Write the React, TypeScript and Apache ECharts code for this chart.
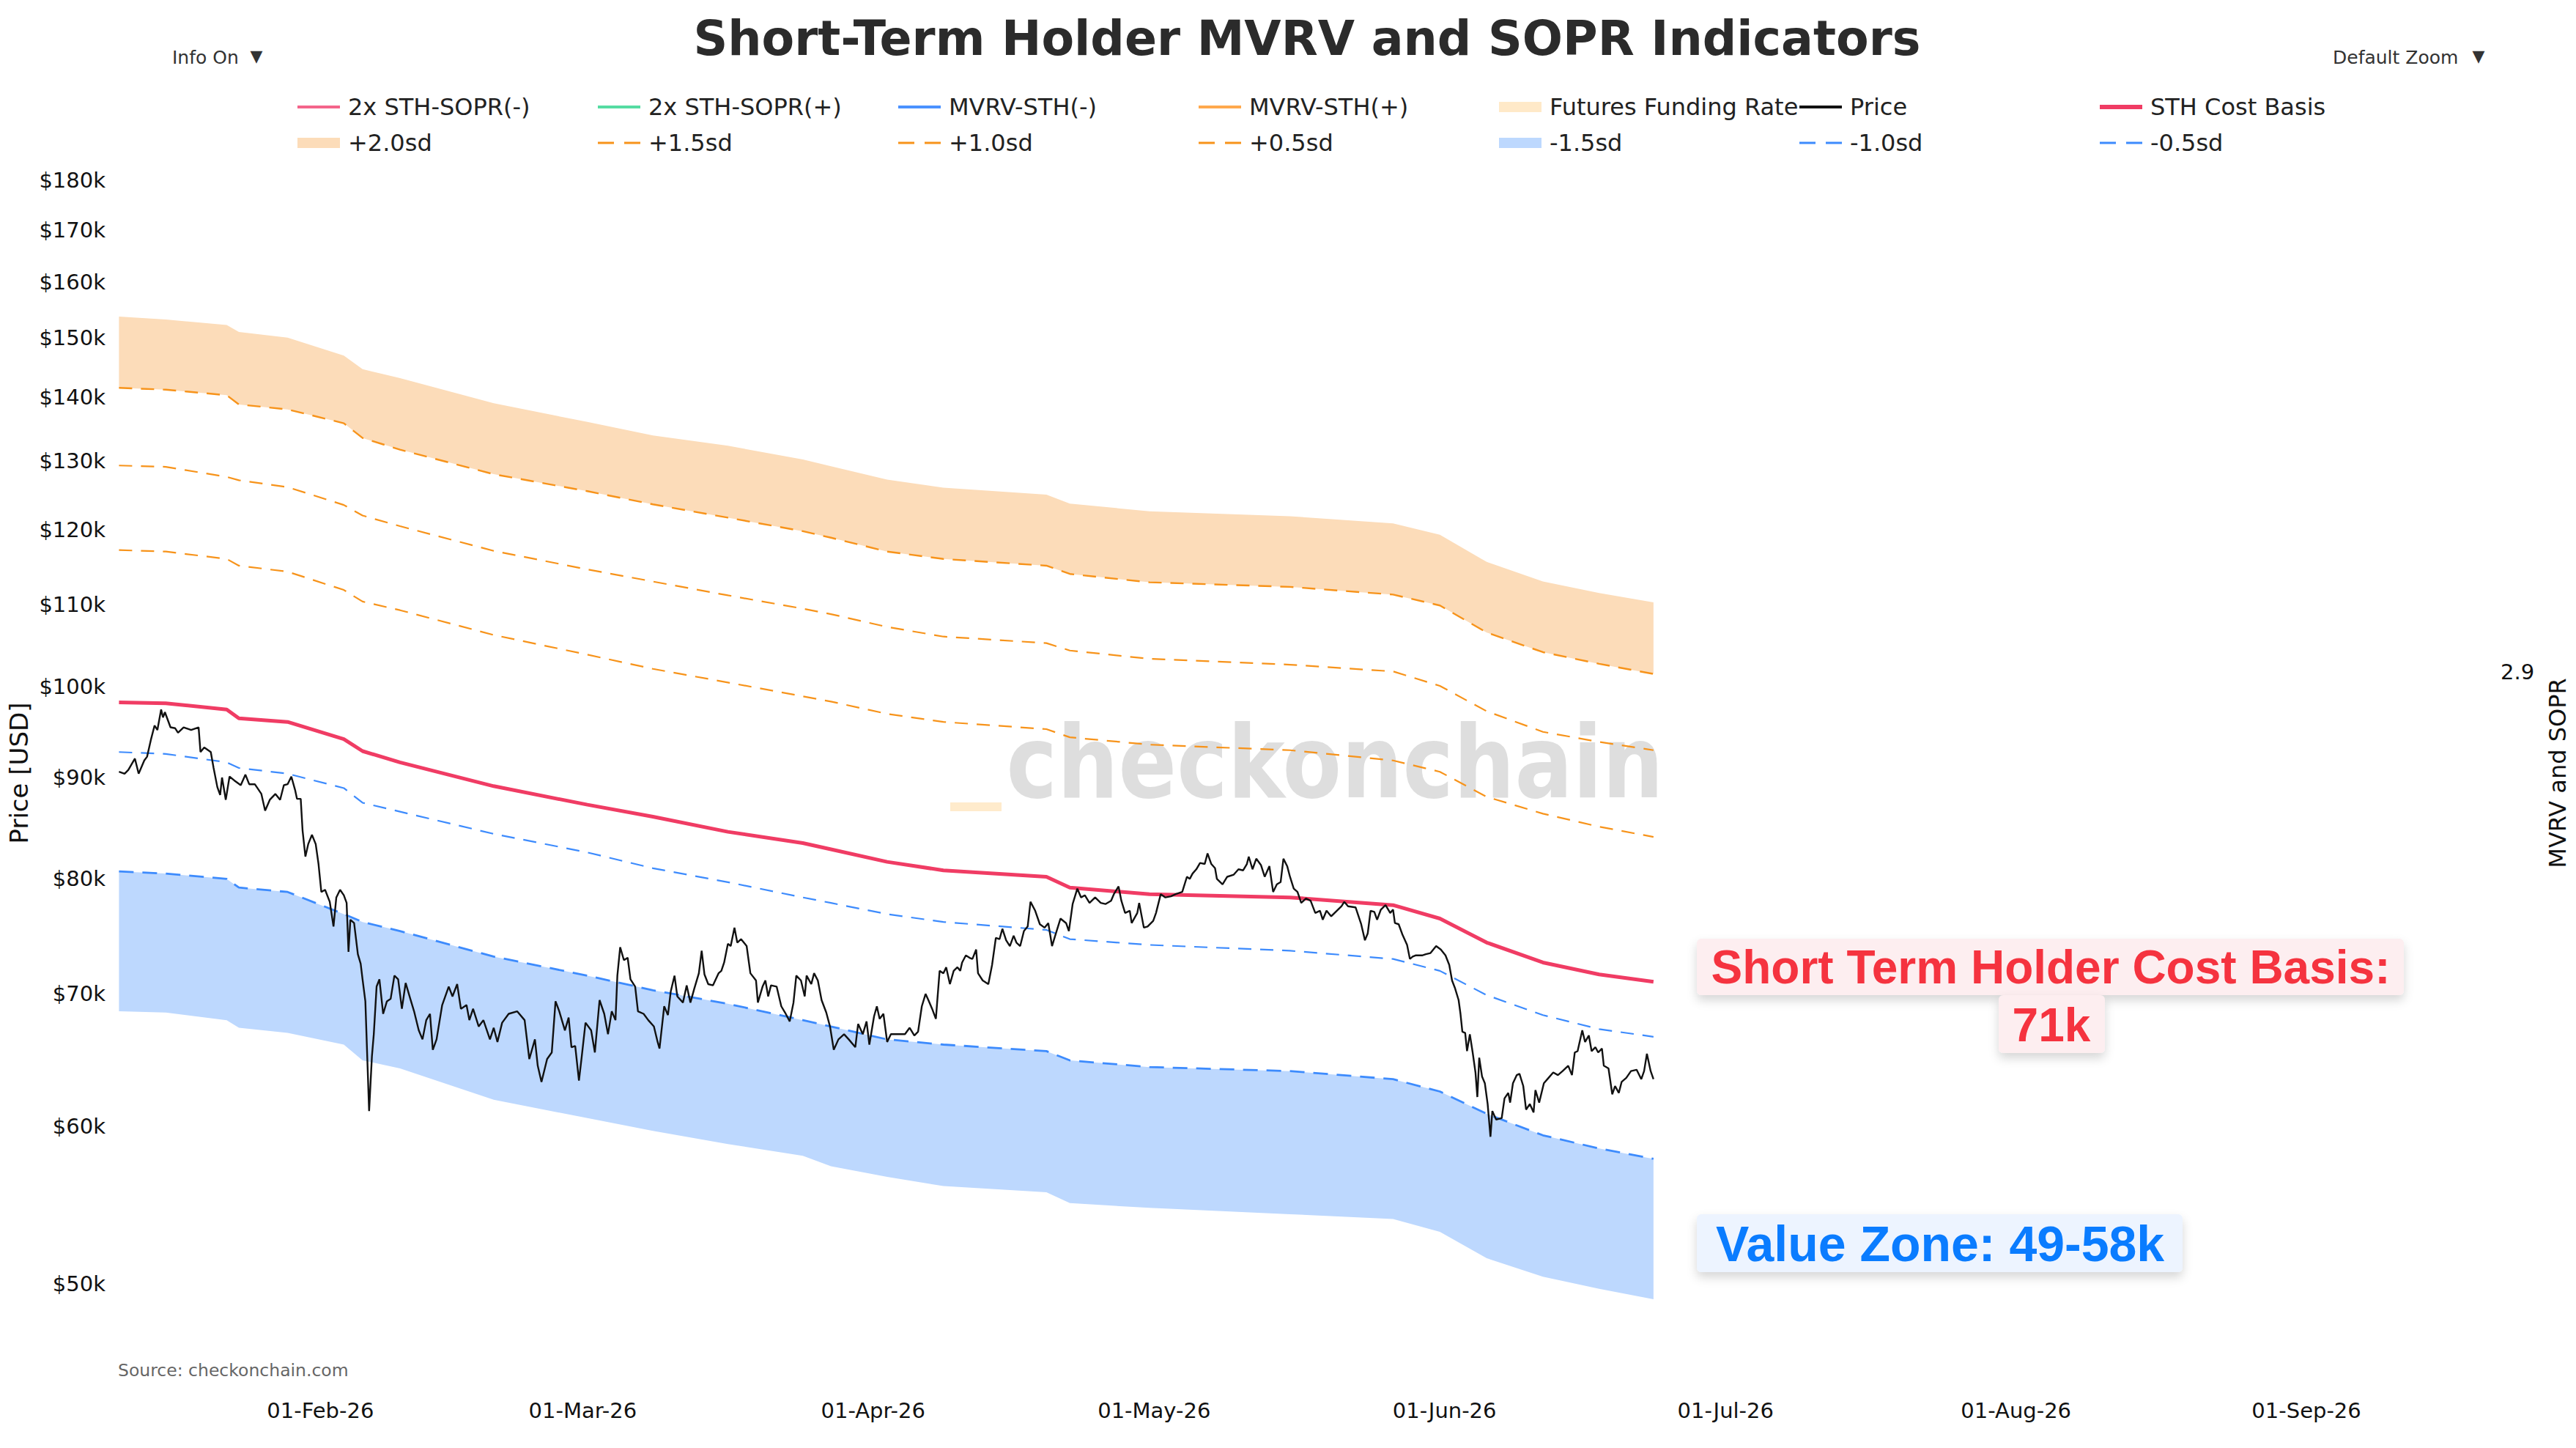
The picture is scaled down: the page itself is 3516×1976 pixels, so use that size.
import { useEffect, useRef } from "react";
import * as echarts from "echarts";

const DAY = 86400000;
const START = Date.UTC(2026, 0, 10, 12);
const X_MIN = Date.UTC(2026, 0, 10);
const X_MAX = Date.UTC(2026, 8, 20);

const X_TICKS = ["2026-02-01", "2026-03-01", "2026-04-01", "2026-05-01", "2026-06-01", "2026-07-01", "2026-08-01", "2026-09-01"];
const X_LABELS = ["01-Feb-26", "01-Mar-26", "01-Apr-26", "01-May-26", "01-Jun-26", "01-Jul-26", "01-Aug-26", "01-Sep-26"];
const Y_TICKS = [50, 60, 70, 80, 90, 100, 110, 120, 130, 140, 150, 160, 170, 180];
const RIGHT_TICKS = [2.9];

// band values in $k, sampled at day offsets from START
const BAND_DAYS = [0, 5, 11.5, 12.8, 18, 24, 26, 30, 40, 50, 57, 65, 73, 76, 82, 88, 99, 101.5, 110, 125, 136, 141, 146, 152, 158, 163.8];
const PLUS_2_0 = [153.7, 153.2, 152.2, 151.0, 150.0, 146.9, 144.6, 143.1, 139.0, 136.0, 133.9, 132.3, 130.2, 129.2, 127.2, 126.0, 125.0, 123.7, 122.6, 121.9, 120.9, 119.3, 115.6, 113.0, 111.5, 110.3];
const PLUS_1_5 = [141.5, 141.2, 140.3, 138.8, 138.0, 135.8, 133.5, 131.7, 128.0, 125.5, 123.6, 121.7, 119.8, 118.9, 117.0, 116.0, 115.1, 114.0, 112.9, 112.3, 111.3, 109.9, 106.5, 104.1, 102.7, 101.5];
const PLUS_1_0 = [129.3, 129.1, 127.6, 127.1, 126.1, 123.5, 122.0, 120.5, 117.1, 114.6, 113.0, 111.2, 109.5, 108.8, 107.2, 106.0, 105.2, 104.3, 103.3, 102.6, 101.8, 100.1, 97.2, 94.9, 93.8, 92.9];
const PLUS_0_5 = [117.2, 117.0, 116.0, 115.1, 114.3, 111.9, 110.4, 109.3, 106.2, 103.8, 102.1, 100.5, 98.9, 98.3, 96.9, 96.0, 95.2, 94.3, 93.5, 92.9, 91.8, 90.6, 88.0, 86.3, 85.0, 84.0];
const COST_BASIS = [98.2, 98.1, 97.4, 96.4, 96.0, 94.1, 92.8, 91.6, 89.1, 87.2, 86.0, 84.5, 83.4, 82.8, 81.6, 80.8, 80.2, 79.2, 78.6, 78.3, 77.6, 76.4, 74.3, 72.6, 71.6, 71.0];
const MINUS_0_5 = [92.7, 92.5, 91.6, 91.0, 90.4, 88.9, 87.4, 86.5, 84.3, 82.5, 81.0, 79.7, 78.3, 77.8, 76.8, 76.1, 75.4, 74.6, 74.1, 73.6, 72.9, 71.9, 69.9, 68.3, 67.2, 66.6];
const MINUS_1_0 = [80.7, 80.5, 80.0, 79.2, 78.8, 76.8, 76.1, 75.3, 73.1, 71.5, 70.3, 69.2, 67.9, 67.4, 66.4, 66.0, 65.5, 64.8, 64.3, 64.0, 63.4, 62.5, 60.9, 59.4, 58.5, 57.8];
const MINUS_1_5 = [68.6, 68.5, 67.9, 67.3, 66.9, 66.0, 64.8, 64.2, 61.9, 60.6, 59.7, 58.8, 58.0, 57.3, 56.6, 56.0, 55.6, 54.9, 54.6, 54.2, 53.9, 53.1, 51.5, 50.4, 49.7, 49.1];

// [day offset, price $k]
const PRICE: [number, number][] = [
  [0, 90.6], [0.6, 90.4], [1.0, 90.8], [1.7, 92.0], [2.1, 90.4], [2.7, 91.8], [3.0, 92.2], [3.4, 94.0], [3.8, 95.6], [4.1, 95.1],
  [4.5, 97.4], [4.7, 96.5], [4.9, 97.1], [5.5, 95.4], [6.0, 95.3], [6.3, 94.8], [6.9, 95.4], [7.7, 95.1], [8.5, 95.4], [8.7, 92.7],
  [9.1, 93.2], [9.8, 92.7], [10.1, 91.0], [10.5, 89.0], [10.8, 88.2], [11.0, 90.0], [11.4, 87.7], [11.8, 90.1], [12.3, 89.7], [13.0, 89.2],
  [13.5, 90.3], [13.9, 89.3], [14.5, 89.3], [15.2, 88.3], [15.6, 86.6], [16.1, 87.7], [16.7, 88.3], [17.2, 87.7], [17.6, 89.2], [18.0, 89.3],
  [18.4, 90.1], [18.8, 88.7], [19.0, 87.8], [19.4, 87.8], [19.6, 84.6], [19.9, 82.1], [20.2, 83.3], [20.6, 84.2], [21.0, 83.3], [21.3, 81.4],
  [21.6, 78.8], [22.0, 79.0], [22.5, 77.9], [22.9, 75.7], [23.2, 78.3], [23.6, 79.0], [24.0, 78.5], [24.3, 77.8], [24.5, 73.5], [24.7, 76.3],
  [25.1, 76.0], [25.5, 73.3], [25.8, 72.5], [26.0, 71.2], [26.3, 69.4], [26.7, 61.1], [27.0, 65.1], [27.2, 66.8], [27.5, 70.6], [27.8, 71.2],
  [28.2, 68.4], [28.6, 69.4], [29.0, 69.6], [29.4, 71.5], [29.8, 71.2], [30.2, 68.8], [30.6, 70.9], [31.1, 69.6], [31.5, 68.6], [32.0, 67.1],
  [32.4, 66.4], [32.8, 67.9], [33.2, 68.4], [33.5, 65.6], [33.9, 66.4], [34.5, 69.1], [35.2, 70.6], [35.6, 69.8], [36.1, 70.8], [36.5, 68.8],
  [37.1, 69.1], [37.4, 67.9], [37.8, 68.8], [38.4, 67.4], [38.9, 67.9], [39.6, 66.4], [40.0, 67.3], [40.4, 66.2], [40.9, 67.7], [41.6, 68.4],
  [42.5, 68.6], [43.3, 67.9], [43.8, 64.9], [44.4, 66.4], [44.7, 64.4], [45.1, 63.2], [45.7, 64.9], [46.2, 65.4], [46.6, 69.4], [47.0, 68.6],
  [47.6, 67.1], [48.0, 68.1], [48.3, 65.8], [48.7, 65.9], [49.1, 63.3], [49.4, 65.1], [49.8, 67.7], [50.4, 67.1], [50.8, 65.4], [51.3, 69.5],
  [51.8, 68.4], [52.2, 66.8], [52.6, 68.6], [53.0, 67.9], [53.2, 71.5], [53.5, 73.9], [53.9, 72.8], [54.3, 73.0], [54.6, 71.2], [55.1, 70.6],
  [55.4, 68.6], [56.0, 68.4], [56.5, 67.9], [57.1, 67.4], [57.5, 66.2], [57.7, 65.7], [58.2, 69.0], [58.6, 68.3], [58.9, 70.2], [59.3, 71.5],
  [59.6, 69.8], [60.2, 69.3], [60.6, 70.7], [61.0, 69.3], [61.4, 70.4], [61.9, 71.7], [62.2, 73.6], [62.5, 71.6], [62.9, 70.8], [63.4, 70.7],
  [64.0, 71.7], [64.3, 71.9], [64.6, 72.6], [65.0, 74.2], [65.3, 74.0], [65.7, 75.6], [66.0, 74.3], [66.4, 74.6], [66.8, 74.2], [67.0, 74.0],
  [67.4, 71.7], [68.0, 71.1], [68.2, 69.3], [68.7, 70.6], [69.0, 71.1], [69.3, 69.8], [69.6, 70.7], [70.2, 70.6], [70.7, 69.0], [71.1, 68.5],
  [71.6, 67.8], [72.0, 69.3], [72.3, 71.5], [72.8, 71.1], [73.2, 69.8], [73.4, 71.5], [73.9, 70.8], [74.2, 71.7], [74.6, 71.1], [75.0, 69.5],
  [75.5, 68.5], [75.9, 67.4], [76.3, 65.6], [76.8, 66.4], [77.4, 66.8], [77.9, 66.4], [78.6, 65.8], [78.9, 67.6], [79.4, 66.8], [79.8, 67.8],
  [80.1, 66.0], [80.6, 68.2], [80.9, 69.0], [81.2, 68.0], [81.6, 68.4], [82.0, 66.2], [82.4, 66.8], [83.1, 66.8], [83.9, 66.8], [84.4, 67.3],
  [84.9, 66.7], [85.3, 67.0], [85.7, 69.0], [86.1, 70.0], [86.4, 69.5], [86.8, 68.8], [87.2, 68.0], [87.6, 71.9], [88.0, 71.7], [88.3, 72.2],
  [88.7, 70.8], [89.1, 71.9], [89.5, 72.2], [89.8, 71.9], [90.0, 72.6], [90.4, 73.2], [90.8, 73.0], [91.1, 72.9], [91.5, 73.7], [91.7, 71.7],
  [92.2, 71.1], [92.8, 70.8], [93.2, 72.4], [93.6, 74.7], [94.0, 74.6], [94.3, 75.5], [94.7, 74.5], [95.1, 74.0], [95.5, 74.9], [95.8, 74.3],
  [96.2, 74.0], [96.6, 75.3], [97.0, 75.7], [97.3, 77.9], [97.8, 77.1], [98.3, 75.9], [98.8, 75.6], [99.2, 76.0], [99.6, 74.0], [99.9, 74.8],
  [100.5, 76.4], [101.1, 76.0], [101.4, 75.3], [101.8, 77.7], [102.3, 79.1], [102.7, 78.3], [103.1, 78.5], [103.6, 77.8], [104.2, 78.3], [104.8, 77.8],
  [105.3, 77.7], [105.9, 78.0], [106.2, 78.6], [106.7, 79.3], [107.0, 78.0], [107.4, 76.9], [107.9, 77.1], [108.1, 76.0], [108.7, 76.9], [108.9, 77.8],
  [109.4, 75.6], [109.8, 75.7], [110.4, 76.2], [110.7, 76.9], [111.2, 78.6], [111.7, 78.3], [112.3, 78.4], [112.8, 78.6], [113.5, 78.8], [114.0, 80.2],
  [114.3, 80.0], [114.6, 80.5], [115.0, 80.9], [115.4, 81.5], [115.9, 81.4], [116.2, 82.4], [116.6, 81.4], [117.0, 81.0], [117.2, 80.0], [117.8, 79.5],
  [118.3, 80.2], [119.0, 80.4], [119.5, 80.9], [120.0, 80.8], [120.4, 81.4], [120.6, 82.1], [121.0, 80.9], [121.4, 81.9], [121.9, 81.3], [122.3, 80.2],
  [122.8, 81.2], [123.2, 78.8], [123.6, 79.5], [124.0, 79.7], [124.3, 81.9], [124.7, 81.2], [125.0, 80.2], [125.4, 79.1], [125.8, 78.8], [126.2, 77.8],
  [126.7, 78.2], [127.2, 78.0], [127.7, 76.9], [128.2, 77.1], [128.5, 76.3], [128.9, 77.1], [129.4, 76.6], [130.0, 77.1], [130.5, 77.5], [130.8, 77.9],
  [131.2, 77.5], [132.0, 77.4], [132.6, 75.9], [133.0, 74.5], [133.3, 75.1], [133.6, 77.1], [134.0, 77.0], [134.3, 76.3], [134.7, 77.2], [135.2, 77.6],
  [135.7, 76.9], [136.0, 77.2], [136.2, 76.0], [136.6, 75.9], [137.0, 75.0], [137.5, 74.1], [137.8, 72.9], [138.1, 73.1], [138.4, 73.2], [139.1, 73.2],
  [139.5, 73.3], [140.0, 73.4], [140.6, 74.0], [141.1, 73.7], [141.6, 73.2], [142.0, 72.4], [142.3, 71.1], [142.6, 70.5], [143.0, 69.5], [143.2, 68.4],
  [143.4, 67.0], [143.7, 66.9], [143.9, 65.5], [144.2, 66.8], [144.5, 65.4], [144.8, 63.9], [145.0, 62.1], [145.2, 65.0], [145.5, 63.6], [145.8, 63.1],
  [146.1, 61.6], [146.4, 59.3], [146.6, 61.1], [147.0, 60.5], [147.6, 60.6], [147.9, 62.0], [148.3, 62.4], [148.5, 61.7], [148.8, 63.1], [149.2, 63.7],
  [149.5, 63.8], [149.9, 62.9], [150.2, 61.2], [150.6, 61.6], [151.0, 61.0], [151.2, 62.6], [151.6, 61.7], [152.1, 63.1], [152.6, 63.5], [153.1, 63.9],
  [153.6, 63.7], [154.1, 64.0], [154.7, 64.4], [155.1, 63.7], [155.4, 65.4], [155.7, 65.5], [156.2, 67.1], [156.5, 66.2], [156.9, 66.7], [157.2, 65.5],
  [157.6, 65.8], [157.9, 65.4], [158.3, 65.7], [158.5, 64.4], [159.0, 64.2], [159.4, 62.3], [159.7, 62.9], [160.1, 62.4], [160.4, 63.2], [160.9, 63.5],
  [161.4, 64.0], [162.0, 64.1], [162.5, 63.4], [162.8, 64.0], [163.1, 65.3], [163.5, 64.0], [163.8, 63.4],
];

const LEGEND_ROW_1 = ["2x STH-SOPR(-)", "2x STH-SOPR(+)", "MVRV-STH(-)", "MVRV-STH(+)", "Futures Funding Rate", "Price", "STH Cost Basis"];
const LEGEND_ROW_2 = ["+2.0sd", "+1.5sd", "+1.0sd", "+0.5sd", "-1.5sd", "-1.0sd", "-0.5sd"];

const ORANGE = "#f7931a";
const ORANGE_FILL = "#fcdcb9";
const BLUE = "#3d8bfd";
const BLUE_FILL = "#bdd8fe";
const RED = "#f03c64";
const FONT = "DejaVu Sans";

const ICON_LINE = "path://M0,0h1v0h-1z M0,5h58v4h-58z M0,14h1v0h-1z";
const ICON_THICK = "path://M0,0h1v0h-1z M0,4h58v6h-58z M0,14h1v0h-1z";
const ICON_DASH = "path://M0,0h1v0h-1z M0,5.5h22v3h-22z M36,5.5h22v3h-22z M0,14h1v0h-1z";
const LEGEND_ICONS: Record<string, string> = {
  "2x STH-SOPR(-)": ICON_LINE, "2x STH-SOPR(+)": ICON_LINE, "MVRV-STH(-)": ICON_LINE, "MVRV-STH(+)": ICON_LINE,
  "Futures Funding Rate": "rect", "Price": ICON_LINE, "STH Cost Basis": ICON_THICK,
  "+2.0sd": "rect", "+1.5sd": ICON_DASH, "+1.0sd": ICON_DASH, "+0.5sd": ICON_DASH,
  "-1.5sd": "rect", "-1.0sd": ICON_DASH, "-0.5sd": ICON_DASH,
};

const band = (vals: number[]) => BAND_DAYS.map((d, i) => [START + d * DAY, vals[i]]);

function dashedLine(name: string, vals: number[], color: string, width: number, dash: number[]) {
  return { name, type: "line", data: band(vals), symbol: "none", z: 3, color, lineStyle: { color, width, type: dash } };
}

// filled area between two bands, drawn as one polygon through the axes' scales
function bandFill(name: string, hi: number[], lo: number[], color: string) {
  const upper = band(hi);
  const lower = band(lo).reverse();
  return {
    name, type: "custom", z: 1, color, itemStyle: { color },
    data: BAND_DAYS.map((d, i) => [START + d * DAY, lo[i], hi[i]]),
    encode: { x: 0, y: [1, 2] },
    renderItem: (params: { dataIndex: number }, api: { coord: (p: number[]) => number[] }) => {
      if (params.dataIndex !== 0) return null;
      const points = [...upper.map(p => api.coord(p)), ...lower.map(p => api.coord(p))];
      return { type: "polygon", shape: { points }, style: { fill: color } };
    },
  };
}

function legendItem(name: string, col: number, top: number) {
  return {
    left: 406 + 410 * col, top, padding: 0, itemWidth: 58, itemHeight: 14, selectedMode: false,
    itemStyle: { borderWidth: 0 },
    textStyle: { fontFamily: FONT, fontSize: 32, color: "#222", padding: [0, 0, 0, 6] },
    data: [{ name, icon: LEGEND_ICONS[name] }],
  };
}

function text(x: number, y: number, str: string, size: number, fill: string, extra: Record<string, unknown> = {}) {
  return {
    type: "text", x, y, z: 20,
    style: { text: str, fill, fontSize: size, fontFamily: FONT, align: "left", verticalAlign: "middle", textAlign: "left", textVerticalAlign: "middle", ...extra },
  };
}

function box(x: number, y: number, w: number, h: number, fill: string) {
  return {
    type: "rect", z: 15, shape: { x, y, width: w, height: h, r: 6 },
    style: { fill, shadowBlur: 14, shadowOffsetY: 7, shadowColor: "rgba(0,0,0,0.16)" },
  };
}

export default function App() {
  const ref = useRef<HTMLDivElement>(null);

  useEffect(() => {
    if (!ref.current) return;
    const chart = echarts.init(ref.current, null, { renderer: "svg" });
    const xTickValues = X_TICKS.map(s => Date.parse(s));

    chart.setOption({
      animation: false,
      backgroundColor: "#fff",
      textStyle: { fontFamily: FONT },
      grid: { left: 156, right: 125, top: 220, bottom: 86, containLabel: false, outerBoundsMode: "none" },
      legend: [
        ...LEGEND_ROW_1.map((n, i) => legendItem(n, i, 130)),
        ...LEGEND_ROW_2.map((n, i) => legendItem(n, i, 179)),
      ],
      xAxis: {
        type: "value", min: X_MIN, max: X_MAX,
        axisLine: { show: false }, axisTick: { show: false }, splitLine: { show: false },
        axisLabel: {
          customValues: xTickValues, margin: 20, fontSize: 29, color: "#111", fontFamily: FONT,
          formatter: (v: number) => X_LABELS[xTickValues.indexOf(v)] ?? "",
        },
      },
      yAxis: [
        {
          type: "log", logBase: 10, min: 44.45, max: 184.1,
          name: "Price [USD]", nameLocation: "middle", nameGap: 112,
          nameTextStyle: { fontSize: 34, color: "#111", fontFamily: FONT },
          axisLine: { show: false }, axisTick: { show: false }, splitLine: { show: false },
          axisLabel: {
            customValues: Y_TICKS, margin: 12, fontSize: 29, color: "#111", fontFamily: FONT,
            formatter: (v: number) => `$${Math.round(v)}k`,
          },
        },
        {
          type: "value", position: "right", min: 0, max: 4.978,
          name: "MVRV and SOPR", nameLocation: "middle", nameGap: 84,
          nameTextStyle: { fontSize: 32, color: "#111", fontFamily: FONT },
          axisLine: { show: false }, axisTick: { show: false }, splitLine: { show: false },
          axisLabel: { customValues: RIGHT_TICKS, margin: 22, fontSize: 29, color: "#111", fontFamily: FONT, formatter: (v: number) => v.toFixed(1) },
        },
      ],
      series: [
        bandFill("+2.0sd", PLUS_2_0, PLUS_1_5, ORANGE_FILL),
        bandFill("-1.5sd", MINUS_1_0, MINUS_1_5, BLUE_FILL),
        dashedLine("+1.5sd", PLUS_1_5, ORANGE, 2.4, [18, 12]),
        dashedLine("+1.0sd", PLUS_1_0, ORANGE, 2.2, [18, 12]),
        dashedLine("+0.5sd", PLUS_0_5, ORANGE, 2.2, [18, 12]),
        dashedLine("-1.0sd", MINUS_1_0, BLUE, 2.8, [20, 12]),
        dashedLine("-0.5sd", MINUS_0_5, BLUE, 2.2, [18, 12]),
        { name: "STH Cost Basis", type: "line", data: band(COST_BASIS), symbol: "none", z: 4, color: RED, lineStyle: { color: RED, width: 5 } },
        {
          name: "Price", type: "line", data: PRICE.map(([d, v]) => [START + d * DAY, v]), symbol: "none", z: 5,
          color: "#111", lineStyle: { color: "#111", width: 2.4 },
        },
        { name: "2x STH-SOPR(-)", type: "line", yAxisIndex: 1, data: [], symbol: "none", color: "#f4648a" },
        { name: "2x STH-SOPR(+)", type: "line", yAxisIndex: 1, data: [], symbol: "none", color: "#55dca2" },
        { name: "MVRV-STH(-)", type: "line", yAxisIndex: 1, data: [], symbol: "none", color: "#4b92ff" },
        { name: "MVRV-STH(+)", type: "line", yAxisIndex: 1, data: [], symbol: "none", color: "#ffa94d" },
        { name: "Futures Funding Rate", type: "bar", yAxisIndex: 1, data: [], color: "#ffe9c8" },
      ],
      graphic: [
        {
          type: "text", x: 1822, y: 1040, z: 0, scaleX: 0.85,
          style: { text: "checkonchain", fill: "#dedede", fontSize: 138, fontWeight: "bold", fontFamily: FONT, align: "center", verticalAlign: "middle", textAlign: "center", textVerticalAlign: "middle" },
        },
        { type: "rect", z: 0, shape: { x: 1297, y: 1095, width: 70, height: 12 }, style: { fill: "#ffebcc" } },
        text(1784, 52, "Short-Term Holder MVRV and SOPR Indicators", 65, "#2b2b2b", { fontWeight: "bold", align: "center", textAlign: "center" }),
        text(235, 78, "Info On", 25, "#333"),
        text(350, 76, "▼", 22, "#333", { align: "center", textAlign: "center" }),
        text(3184, 78, "Default Zoom", 25, "#333"),
        text(3383, 76, "▼", 22, "#333", { align: "center", textAlign: "center" }),
        text(161, 1870, "Source: checkonchain.com", 23.5, "#666"),
        box(2316, 1281, 965, 77, "#fdeef0"),
        box(2728, 1358, 145, 79, "#fdeef0"),
        text(2799, 1320, "Short Term Holder Cost Basis:", 64, "#f5333f", { fontWeight: "bold", fontFamily: "Liberation Sans", align: "center", textAlign: "center" }),
        text(2800, 1399, "71k", 64, "#f5333f", { fontWeight: "bold", fontFamily: "Liberation Sans", align: "center", textAlign: "center" }),
        box(2316, 1657, 663, 79, "#edf4ff"),
        text(2648, 1697, "Value Zone: 49-58k", 68, "#0a7cff", { fontWeight: "bold", fontFamily: "Liberation Sans", align: "center", textAlign: "center" }),
      ],
    });

    return () => chart.dispose();
  }, []);

  return <div ref={ref} style={{ position: "fixed", left: 0, top: 0, width: "100vw", height: "100vh", background: "#fff" }} />;
}
